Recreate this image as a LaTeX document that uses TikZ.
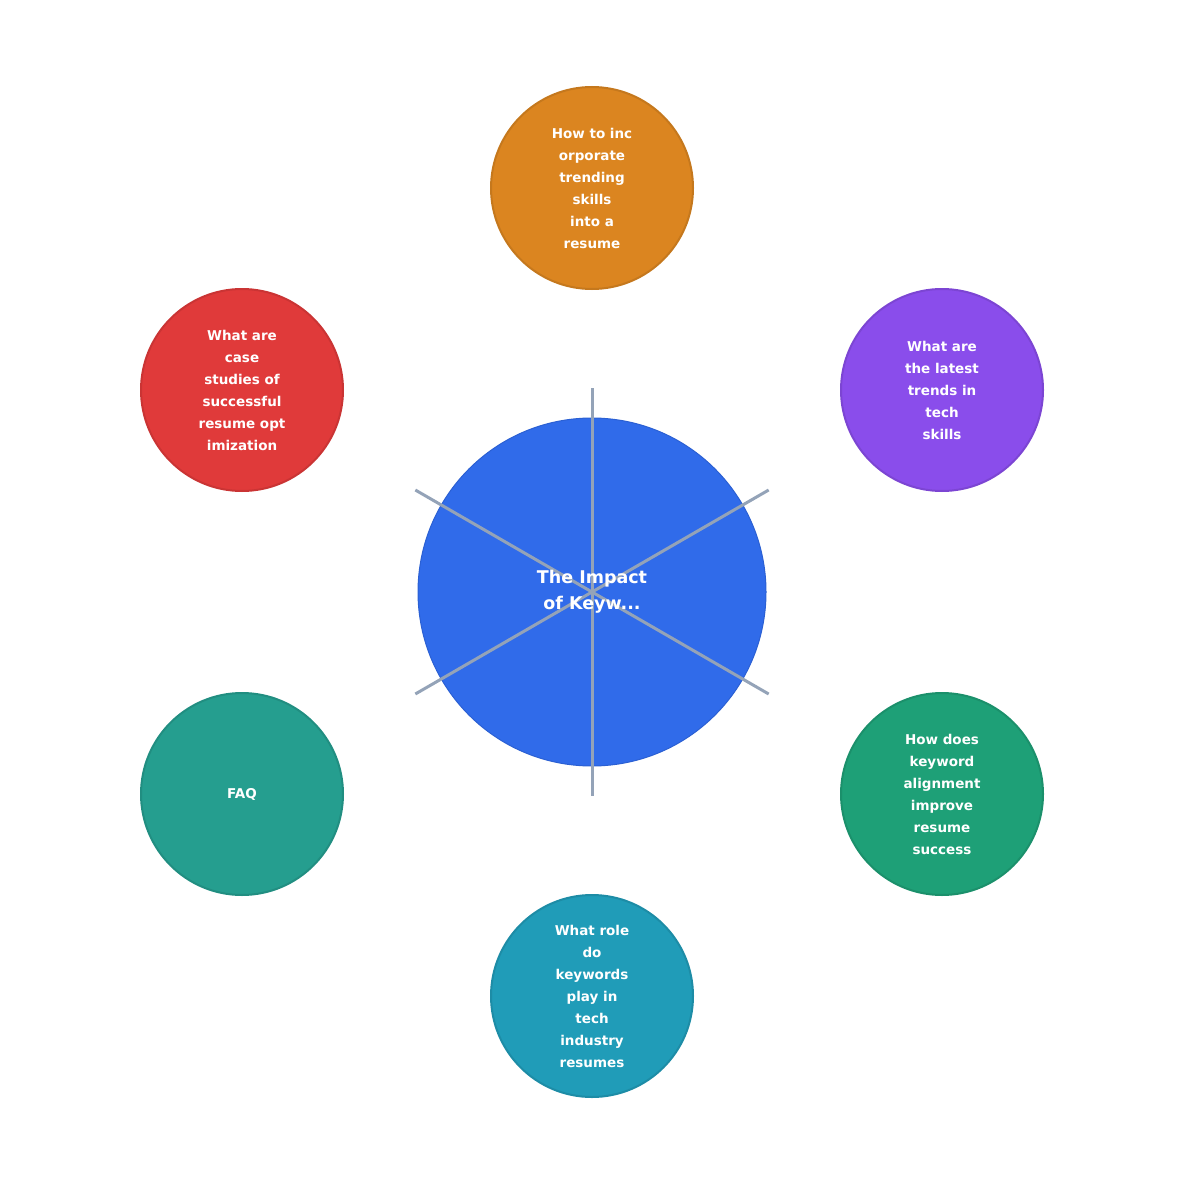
\documentclass[tikz,border=0pt]{standalone}
\usepackage{fontspec}
\setmainfont{DejaVu Sans}
\usetikzlibrary{calc}
\begin{document}
\begin{tikzpicture}[x=1pt,y=-1pt,
 sat/.style={circle,minimum size=202pt,inner sep=0pt,line width=2pt,text=white,font=\bfseries\fontsize{13.5}{22}\selectfont,align=center},
 spoke/.style={draw=spk,line width=3pt}]
\definecolor{spk}{HTML}{94A3B8}
\definecolor{cA}{HTML}{DB8520}\definecolor{cB}{HTML}{8A4DEB}\definecolor{cC}{HTML}{1EA077}
\definecolor{cD}{HTML}{209CB8}\definecolor{cE}{HTML}{259E8F}\definecolor{cF}{HTML}{E03A3A}
\definecolor{cM}{HTML}{306BEA}
\useasboundingbox (0,0) rectangle (1185,1185);
\node[circle,minimum size=348pt,inner sep=0pt,fill=cM,draw=cM!90!black,line width=1pt] (m) at (592,592) {};
\foreach \a/\n in {90/p1,30/p2,-30/p3,-90/p4,210/p5,150/p6}
 \coordinate (\n) at ($(m.center)+(\a:204 and -204)$);
\foreach \n in {p1,p2,p3,p4,p5,p6} \draw[spoke] (m.center) -- (\n);
\node[text=white,font=\bfseries\fontsize{17.5}{26}\selectfont,align=center] (mt) at (592,592) {The Impact\\of Keyw...};
\node[sat,fill=cA,draw=cA!90!black] (a) at (592,188) {How to inc\\orporate\\trending\\skills\\into a\\resume};
\node[sat,fill=cB,draw=cB!90!black] (b) at (942,390) {What are\\the latest\\trends in\\tech\\skills};
\node[sat,fill=cC,draw=cC!90!black] (c) at (942,794) {How does\\keyword\\alignment\\improve\\resume\\success};
\node[sat,fill=cD,draw=cD!90!black] (d) at (592,996) {What role\\do\\keywords\\play in\\tech\\industry\\resumes};
\node[sat,fill=cE,draw=cE!90!black] (e) at (242,794) {FAQ};
\node[sat,fill=cF,draw=cF!90!black] (f) at (242,390) {What are\\case\\studies of\\successful\\resume opt\\imization};
\end{tikzpicture}
\end{document}
